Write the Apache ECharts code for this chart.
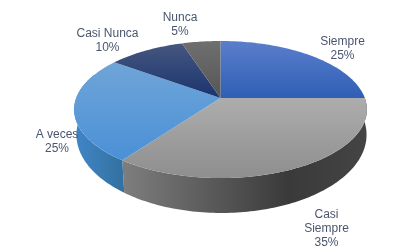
<!DOCTYPE html>
<html><head><meta charset="utf-8">
<style>html,body{margin:0;padding:0;background:#fff}#c{width:418px;height:252px}</style>
<script src="https://cdn.jsdelivr.net/npm/echarts@6/dist/echarts.min.js"></script>
</head><body><div id="c"></div>
<script>
const categories = ['Siempre', 'Casi Siempre', 'A veces', 'Casi Nunca', 'Nunca'];
const values = [25, 35, 25, 10, 5];
const labelLines = [['Siempre','25%'], ['Casi','Siempre','35%'], ['A veces','25%'], ['Casi Nunca','10%'], ['Nunca','5%']];

// styling and layout, separate from the data
const labelPos = [[342.5,49],[326.5,229],[57,142],[107.5,40.5],[180,25]];
const topCols = [['#5b7ecb','#2e5fb5'],['#adadad','#8e8e8e'],['#6fa5d8','#4a90d6'],['#46577f','#1a3470'],['#6f6f6f','#565656']];
const wallCols = [
  [[0,'#2e5fb5'],[1,'#2e5fb5']],
  [[0,'#7e7e7e'],[0.68,'#3a3a3a'],[1,'#444444']],
  [[0,'#4087c8'],[1,'#33709f']],
  [[0,'#1a3470'],[1,'#1a3470']],
  [[0,'#565656'],[1,'#565656']]
];
const topE = {cx:220.5, cy:98, rx:144.3, ry:66.6};
const baseE = {cx:221.5, cy:121.6, rx:143, ry:76};
const persp = 0.168;

function project(theta, e){
  const u=Math.sin(theta), v=-Math.cos(theta), d=1-persp*v;
  return [e.cx+e.rx*u/d, e.cy+e.ry*v/d];
}
const total=values.reduce((a,b)=>a+b,0);
const starts=[]; let acc=0;
values.forEach(v=>{starts.push(acc/total*2*Math.PI); acc+=v;});
function arc(a,b,e){
  const n=Math.max(2,Math.ceil((b-a)/0.02)), pts=[];
  for(let i=0;i<=n;i++) pts.push(project(a+(b-a)*i/n,e));
  return pts;
}
function grad(x0,y0,x1,y1,stops){
  return new echarts.graphic.LinearGradient(x0,y0,x1,y1,stops.map(s=>({offset:s[0],color:s[1]})));
}
function renderWall(params,api){
  const i=params.dataIndex, a=starts[i], b=a+api.value(0)/total*2*Math.PI;
  const children=[];
  const lo=Math.max(a,Math.PI/2-0.02), hi=Math.min(b,Math.PI*1.62);
  if(hi>lo){
    const pts=arc(lo,hi,topE).concat(arc(lo,hi,baseE).reverse());
    children.push({type:'polygon',shape:{points:pts},style:{fill:grad(0,0,1,0,wallCols[i])}});
  }
  children.push({type:'text',style:{text:labelLines[i].join('\n'),x:labelPos[i][0],y:labelPos[i][1],
    align:'center',verticalAlign:'middle',font:'12px "Liberation Sans"',lineHeight:14,fill:'#4a566e'}});
  return {type:'group',children};
}
function renderTop(params,api){
  const i=params.dataIndex, a=starts[i], b=a+api.value(0)/total*2*Math.PI;
  const pts=[[topE.cx,topE.cy]].concat(arc(a,b,topE));
  return {type:'polygon',shape:{points:pts},style:{fill:grad(0,0,0,1,[[0,topCols[i][0]],[1,topCols[i][1]]])}};
}
const data=categories.map((c,i)=>({name:c,value:[values[i]]}));
const chart=echarts.init(document.getElementById('c'),null,{renderer:'canvas'});
chart.setOption({
  animation:false,
  backgroundColor:'#fff',
  series:[
    {type:'custom',coordinateSystem:'none',renderItem:renderWall,data:data,silent:true,z:1},
    {type:'custom',coordinateSystem:'none',renderItem:renderTop,data:data,silent:true,z:2}
  ]
});
</script></body></html>
